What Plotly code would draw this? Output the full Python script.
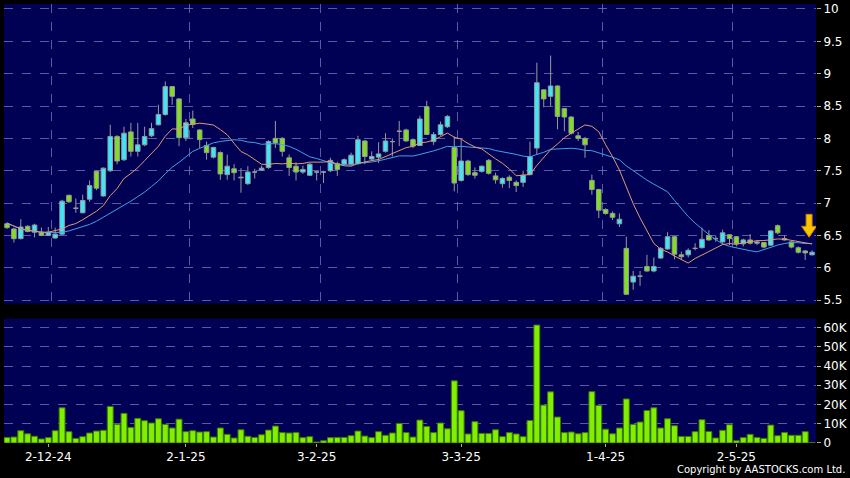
import plotly.graph_objects as go
import pandas as pd

# ---------------- data ----------------
tick_idx = [6, 26, 45, 66, 87, 106]
tick_text = ["2-12-24", "2-1-25", "3-2-25", "3-3-25", "1-4-25", "2-5-25"]
grid_idx = [6.5, 26.5, 45.5, 65.5, 86.5, 105.5]

price_ticks = [5.5, 6, 6.5, 7, 7.5, 8, 8.5, 9, 9.5, 10]
price_tick_text = ["5.5", "6", "6.5", "7", "7.5", "8", "8.5", "9", "9.5", "10"]

vol_ticks = [0, 10000, 20000, 30000, 40000, 50000, 60000]
vol_tick_text = ["0", "10K", "20K", "30K", "40K", "50K", "60K"]

opens = [6.68, 6.60, 6.45, 6.64, 6.55, 6.55, 6.50, 6.46, 6.52, 7.12,
         6.92, 6.85, 7.06, 7.49, 7.11, 7.50, 8.03, 7.67, 8.10, 7.80,
         7.90, 8.04, 8.21, 8.37, 8.80, 8.61, 8.01, 8.30, 8.13, 7.89,
         7.71, 7.78, 7.44, 7.53, 7.40, 7.30, 7.48, 7.51, 7.55, 8.00,
         8.00, 7.70, 7.57, 7.48, 7.43, 7.48, 7.48, 7.50, 7.61, 7.60,
         7.60, 7.61, 7.96, 7.68, 7.71, 7.80, 7.95, 8.11, 8.13, 7.98,
         7.89, 8.49, 7.95, 8.06, 8.18, 7.86, 7.35, 7.65, 7.47, 7.49,
         7.66, 7.42, 7.30, 7.40, 7.32, 7.32, 7.44, 7.85, 8.75, 8.65,
         8.81, 8.46, 8.33, 8.04, 8.00, 7.35, 7.21, 6.90, 6.84, 6.68,
         6.30, 5.78, 5.87, 6.02, 5.95, 6.15, 6.29, 6.48, 6.20, 6.20,
         6.30, 6.31, 6.50, 6.45, 6.40, 6.51, 6.48, 6.37, 6.43, 6.38,
         6.39, 6.35, 6.65, 6.45, 6.40, 6.31, 6.26, 6.20]
highs = [6.70, 6.62, 6.75, 6.66, 6.68, 6.62, 6.63, 6.62, 7.05, 7.13,
         7.07, 7.13, 7.35, 7.50, 7.55, 8.21, 8.05, 8.18, 8.24, 8.24,
         8.18, 8.24, 8.52, 8.88, 8.81, 8.62, 8.30, 8.43, 8.14, 7.95,
         7.87, 7.80, 7.75, 7.60, 7.54, 7.57, 7.53, 7.58, 7.97, 8.27,
         8.02, 7.75, 7.63, 7.58, 7.62, 7.50, 7.50, 7.70, 7.64, 7.69,
         7.78, 8.04, 7.97, 7.80, 7.94, 8.08, 8.00, 8.27, 8.15, 8.00,
         8.35, 8.58, 8.10, 8.26, 8.36, 8.03, 7.98, 7.67, 7.55, 7.58,
         7.68, 7.47, 7.40, 7.43, 7.35, 7.50, 7.95, 9.17, 8.76, 9.28,
         8.82, 8.47, 8.34, 8.10, 8.02, 7.44, 7.22, 6.92, 6.87, 6.84,
         6.48, 5.95, 5.95, 6.20, 6.16, 6.32, 6.55, 6.49, 6.25, 6.30,
         6.38, 6.62, 6.58, 6.50, 6.59, 6.52, 6.49, 6.45, 6.52, 6.42,
         6.40, 6.58, 6.67, 6.50, 6.41, 6.33, 6.27, 6.27]
lows = [6.60, 6.39, 6.44, 6.55, 6.47, 6.49, 6.49, 6.45, 6.50, 7.00,
        6.85, 6.84, 7.02, 7.20, 7.10, 7.48, 7.60, 7.65, 7.72, 7.72,
        7.88, 8.02, 8.20, 8.35, 8.52, 7.88, 7.96, 8.16, 7.85, 7.67,
        7.69, 7.36, 7.36, 7.35, 7.16, 7.28, 7.38, 7.50, 7.53, 7.85,
        7.72, 7.42, 7.35, 7.45, 7.42, 7.35, 7.31, 7.48, 7.42, 7.58,
        7.58, 7.59, 7.60, 7.66, 7.62, 7.78, 7.72, 7.88, 7.95, 7.85,
        7.88, 8.05, 7.90, 8.04, 8.16, 7.18, 7.33, 7.42, 7.38, 7.47,
        7.44, 7.30, 7.24, 7.23, 7.17, 7.25, 7.43, 7.75, 8.48, 8.50,
        8.14, 8.11, 8.06, 7.96, 7.70, 7.13, 6.77, 6.82, 6.74, 6.63,
        5.58, 5.66, 5.72, 5.94, 5.93, 6.14, 6.28, 6.13, 6.12, 6.16,
        6.27, 6.30, 6.42, 6.40, 6.36, 6.35, 6.33, 6.33, 6.36, 6.35,
        6.30, 6.34, 6.52, 6.42, 6.30, 6.22, 6.12, 6.19]
closes = [6.62, 6.45, 6.63, 6.56, 6.66, 6.50, 6.55, 6.52, 7.03, 7.02,
          6.92, 7.04, 7.27, 7.23, 7.54, 8.03, 7.65, 8.08, 7.80, 7.90,
          8.03, 8.15, 8.37, 8.80, 8.65, 8.01, 8.24, 8.22, 7.98, 7.78,
          7.86, 7.45, 7.57, 7.47, 7.39, 7.48, 7.48, 7.54, 7.95, 7.93,
          7.80, 7.55, 7.48, 7.52, 7.60, 7.48, 7.48, 7.66, 7.52, 7.67,
          7.74, 7.98, 7.72, 7.72, 7.76, 7.96, 7.95, 8.11, 7.96, 7.88,
          8.30, 8.06, 8.06, 8.21, 8.34, 7.31, 7.65, 7.44, 7.43, 7.57,
          7.46, 7.36, 7.38, 7.35, 7.27, 7.43, 7.72, 8.86, 8.61, 8.81,
          8.34, 8.33, 8.08, 8.00, 7.90, 7.21, 6.89, 6.84, 6.78, 6.75,
          5.59, 5.87, 5.87, 5.95, 6.02, 6.30, 6.48, 6.21, 6.17, 6.27,
          6.30, 6.44, 6.43, 6.45, 6.54, 6.45, 6.37, 6.43, 6.38, 6.40,
          6.32, 6.57, 6.54, 6.43, 6.32, 6.24, 6.23, 6.24]
volumes = [2900, 3100, 6400, 4800, 3500, 2100, 2800, 6400, 18300, 5900,
           2400, 3300, 5200, 6200, 6600, 19000, 9700, 15400, 8100, 12800,
           11600, 10400, 12600, 9700, 7800, 12400, 5900, 6400, 5700, 5900,
           3100, 7800, 4500, 2600, 6900, 3500, 2900, 4300, 6700, 8800,
           5400, 5200, 5500, 2800, 3300, 500, 1200, 2800, 2900, 2900,
           3800, 6200, 3600, 2800, 5900, 4000, 5200, 10200, 5400, 3100,
           11900, 8600, 5400, 10400, 7400, 32300, 16800, 4700, 11100, 5000,
           5000, 6900, 3300, 5400, 4700, 3300, 11700, 61300, 19700, 26600,
           13500, 5400, 5700, 4800, 5400, 26700, 19500, 7200, 4800, 7800,
           22900, 9700, 10900, 16900, 18300, 7800, 12600, 9000, 3400, 3400,
           5900, 12100, 6000, 2600, 6600, 9500, 1200, 2800, 4500, 2900,
           2400, 9300, 3800, 5500, 4000, 4000, 5900, 300]

# moving-average values for the first bars (the
# averages' earlier history lies outside the chart)
ma10_head = [6.69, 6.64, 6.60, 6.58, 6.56, 6.55, 6.55, 6.57, 6.60]
ma20_head = [6.69, 6.64, 6.60, 6.58, 6.56, 6.55, 6.54, 6.54, 6.55, 6.57,
             6.60, 6.63, 6.67, 6.72, 6.78, 6.84, 6.90, 6.97, 7.03]

# ---------------- styles ----------------
BG = "#000055"
GRID = "rgba(120,120,185,0.75)"
CYAN = "#3ee6f7"
GREEN = "#80e020"
EDGE = "#9a9a9a"
LIME = "#80f000"
FONT = "DejaVu Sans"
BODY_W = 0.66
HALF = BODY_W / 2

# ---------------- derived ----------------
x = list(range(len(closes)))
cs = pd.Series(closes, dtype=float)
ma10 = cs.rolling(10).mean()
ma20 = cs.rolling(20).mean()
ma10.iloc[:len(ma10_head)] = ma10_head
ma20.iloc[:len(ma20_head)] = ma20_head

body_base = [min(o, c) for o, c in zip(opens, closes)]
body_len = [abs(c - o) for o, c in zip(opens, closes)]
body_col = [CYAN if c > o else GREEN for o, c in zip(opens, closes)]

# wick segments (upper and lower parts, so they never cross a body) and
# flat marks for the bars whose open equals the close
wx, wy = [], []
for i, o, h, l, c in zip(x, opens, highs, lows, closes):
    top, bot = max(o, c), min(o, c)
    wx += [i, i, None, i, i, None]
    wy += [h, top, None, bot, l, None]
    if o == c:
        wx += [i - HALF, i + HALF, None]
        wy += [o, o, None]

fig = go.Figure()
fig.add_trace(go.Scatter(x=wx, y=wy, mode="lines", xaxis="x2", yaxis="y",
                         line=dict(color=EDGE, width=1), hoverinfo="skip",
                         connectgaps=False))
fig.add_trace(go.Bar(x=x, y=body_len, base=body_base, width=BODY_W,
                     xaxis="x2", yaxis="y",
                     marker=dict(color=body_col, line=dict(color=EDGE, width=1)),
                     hoverinfo="skip"))
fig.add_trace(go.Scatter(x=x, y=ma20, mode="lines", xaxis="x2", yaxis="y",
                         line=dict(color="#3fa3e6", width=1), hoverinfo="skip"))
fig.add_trace(go.Scatter(x=x, y=ma10, mode="lines", xaxis="x2", yaxis="y",
                         line=dict(color="#e39a72", width=1), hoverinfo="skip"))
fig.add_trace(go.Bar(x=x, y=volumes, xaxis="x", yaxis="y2",
                     marker=dict(color=LIME, line=dict(color="#3c7800", width=1)),
                     hoverinfo="skip"))

xr = [-0.44, len(x) - 0.43]
grid_axis = dict(showgrid=True, gridcolor=GRID, griddash="dash", gridwidth=1,
                 zeroline=False, showline=False)
fig.update_layout(
    width=850, height=478,
    margin=dict(l=4, r=33, t=2, b=35),
    paper_bgcolor="black", plot_bgcolor=BG,
    showlegend=False, bargap=0.14, barmode="overlay",
    font=dict(family=FONT, color="white", size=12),
    # bottom axis: date labels
    xaxis=dict(domain=[0, 1], anchor="y2", range=xr,
               tickvals=tick_idx, ticktext=tick_text, showgrid=False,
               ticks="outside", ticklen=3, tickcolor="#aaaaaa",
               tickfont=dict(color="white", size=12, family=FONT),
               zeroline=False, showline=False, fixedrange=True),
    # price panel x axis (grid only)
    xaxis2=dict(domain=[0, 1], anchor="y", matches="x", range=xr,
                tickvals=grid_idx, showticklabels=False, ticks="", **grid_axis),
    # volume panel vertical grid
    xaxis3=dict(domain=[0, 1], anchor="y2", overlaying="x", matches="x", range=xr,
                tickvals=grid_idx, showticklabels=False, ticks="", **grid_axis),
    yaxis=dict(domain=[0.3175, 1], anchor="x2", side="right",
               range=[5.446, 10.077],
               tickvals=price_ticks, ticktext=price_tick_text,
               ticks="outside", ticklen=4, tickcolor="#aaaaaa",
               tickfont=dict(color="white", size=12, family=FONT), **grid_axis),
    yaxis2=dict(domain=[0, 0.2834], anchor="x", side="right",
                range=[0, 64660],
                tickvals=vol_ticks, ticktext=vol_tick_text,
                ticks="outside", ticklen=4, tickcolor="#aaaaaa",
                tickfont=dict(color="white", size=12, family=FONT), **grid_axis),
)

# yellow marker arrow above the latest bar
fig.add_shape(type="path", xref="x2", yref="y",
              xsizemode="pixel", ysizemode="pixel",
              xanchor=x[-1], yanchor=highs[-1],
              path="M -3 13 L -10.5 24 L -6 24 L -6 36 L 0 36 L 0 24 L 4.5 24 Z",
              fillcolor="#f8c400", line=dict(color="#c98200", width=1))

fig.add_annotation(text="Copyright by AASTOCKS.com Ltd.", xref="paper", yref="paper",
                   x=1.0385, y=-0.0615, xanchor="right", yanchor="middle",
                   showarrow=False, font=dict(color="white", size=10, family=FONT))

fig.write_html(
    "out.html",
    config={"displayModeBar": False},
    post_script="document.body.style.margin='0';document.body.style.background='black';",
)
